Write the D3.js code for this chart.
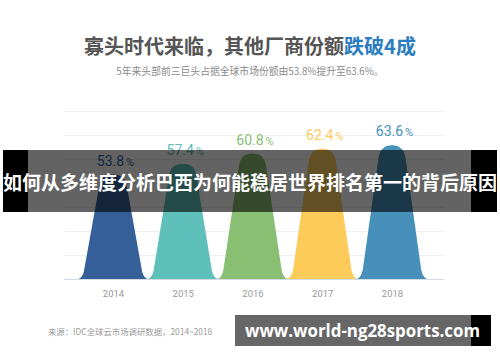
<!DOCTYPE html>
<html><head><meta charset="utf-8">
<script src="https://cdn.jsdelivr.net/npm/d3@7"></script>
<style>
html,body{margin:0;padding:0;background:#fff;}
svg{display:block;}
</style></head>
<body>
<svg id="c" width="500" height="362"></svg>
<script>
const years = ['2014','2015','2016','2017','2018'];
const shares = [53.8, 57.4, 60.8, 62.4, 63.6];
const colors = ['#35609a','#5fc0bb','#88bf72','#fccb5a','#4690bb'];
const gridTicks = [19,27,35,43,51,59,67,75];
const titleMain = '寡头时代来临，其他厂商份额';
const titleHighlight = '跌破4成';
const subtitle = '5年来头部前三巨头占据全球市场份额由53.8%提升至63.6%。';
const source = '来源：IDC全球云市场调研数据，2014~2018';
const bannerText = '如何从多维度分析巴西为何能稳居世界排名第一的背后原因';
const urlText = 'www.world-ng28sports.com';

const svg = d3.select('#c');
const cjk = '"Noto Sans CJK SC", "Noto Sans", sans-serif';

const x = d3.scalePoint().domain(years).range([113, 392]);
const y = d3.scaleLinear().domain([19, 75]).range([279, 111]);

// gridlines
const grid = svg.append('g').attr('transform','translate(64,0)')
  .call(d3.axisLeft(y).tickValues(gridTicks).tickSize(-380).tickFormat(''));
grid.select('.domain').remove();
grid.selectAll('.tick line').attr('stroke', (d,i)=> i===0 ? '#d5dbe2' : '#f0f0f0').attr('stroke-width',1);

// title
const t = svg.append('text').attr('x',250).attr('y',54).attr('text-anchor','middle')
  .style('font-family',cjk).style('font-weight','bold').style('font-size','20px');
t.append('tspan').attr('fill','#555').text(titleMain);
t.append('tspan').attr('fill','#2b7cc0').text(titleHighlight);

svg.append('text').attr('x',250).attr('y',75).attr('text-anchor','middle')
  .style('font-family',cjk).style('font-size','9.8px').attr('fill','#8a8a8a').text(subtitle);

// peaks
function peak(cx, yTop, y0){
  const H = y0 - yTop;
  const py = u => y0 - u*H;
  return `M${cx-36},${y0}` +
    `C${cx-32},${y0} ${cx-29.8},${py(0.04)} ${cx-29},${py(0.08)}` +
    `L${cx-13.6},${py(0.9)}` +
    `C${cx-12.5},${py(0.965)} ${cx-8},${py(1)} ${cx},${py(1)}` +
    `C${cx+8},${py(1)} ${cx+12.5},${py(0.965)} ${cx+13.6},${py(0.9)}` +
    `L${cx+29},${py(0.08)}` +
    `C${cx+29.8},${py(0.04)} ${cx+32},${y0} ${cx+36},${y0}Z`;
}
const data = years.map((yr,i)=>({year:yr, v:shares[i], c:colors[i]}));
svg.append('g').selectAll('path').data(data).join('path')
  .attr('d', d => peak(x(d.year), y(d.v), y(19)))
  .attr('fill', d => d.c);

// value labels
const lab = svg.append('g').selectAll('text').data(data).join('text')
  .attr('x', d => x(d.year)+2.5).attr('y', d => y(d.v)-9)
  .attr('text-anchor','middle').attr('fill', d => d.c)
  .style('font-family','Roboto, sans-serif');
lab.append('tspan').style('font-size','14px').text(d => d.v.toFixed(1));
lab.append('tspan').style('font-size','11px').attr('dx',2).text('%');

// year axis
const xa = svg.append('g').attr('transform','translate(0,279)')
  .call(d3.axisBottom(x).tickSize(0).tickPadding(11));
xa.select('.domain').remove();
xa.selectAll('text').attr('fill','#999').style('font-family','Roboto, sans-serif').style('font-size','9.5px');

// source
svg.append('text').attr('x',48).attr('y',335).style('font-family',cjk)
  .style('font-size','8.4px').attr('fill','#9a9a9a').text(source);

// banner overlay
svg.append('rect').attr('x',3).attr('y',150).attr('width',494).attr('height',62).attr('fill','rgba(0,0,0,0.61)');
svg.append('rect').attr('x',3).attr('y',150).attr('width',25).attr('height',62).attr('fill','#000');
svg.append('rect').attr('x',471).attr('y',150).attr('width',26).attr('height',62).attr('fill','#000');
svg.append('text').attr('x',250).attr('y',181).attr('text-anchor','middle').attr('dominant-baseline','central')
  .attr('textLength',494).attr('lengthAdjust','spacingAndGlyphs')
  .style('font-family',cjk).style('font-weight','bold').style('font-size','19px').attr('fill','#fff').text(bannerText);

// url box
svg.append('rect').attr('x',235).attr('y',315).attr('width',256).attr('height',31).attr('fill','#666');
svg.append('rect').attr('x',471).attr('y',315).attr('width',20).attr('height',31).attr('fill','#000');
svg.append('text').attr('x',245).attr('y',337)
  .attr('textLength',235).attr('lengthAdjust','spacingAndGlyphs')
  .style('font-family','"Open Sans", sans-serif').style('font-weight','bold').style('font-size','17px')
  .attr('fill','#fff').text(urlText);
</script>
</body></html>
